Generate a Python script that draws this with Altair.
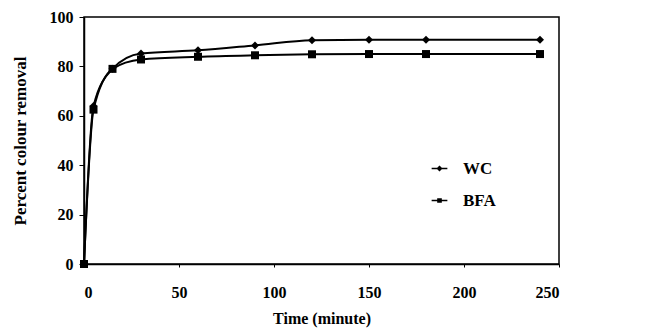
import altair as alt
import pandas as pd

time_min = [0, 5, 15, 30, 60, 90, 120, 150, 180, 240]
wc = [0, 64, 79, 85.2, 86.5, 88.5, 90.6, 90.8, 90.8, 90.8]
bfa = [0, 62.5, 79, 82.8, 83.9, 84.5, 84.9, 85, 85, 85]
series_names = ["WC", "BFA"]

rows = []
for t, a, b in zip(time_min, wc, bfa):
    rows.append({"time": t, "value": a, "series": "WC"})
    rows.append({"time": t, "value": b, "series": "BFA"})
df = pd.DataFrame(rows)

FONT = "Liberation Serif"

x = alt.X("time:Q", scale=alt.Scale(domain=[0, 250], nice=False),
          axis=alt.Axis(title="Time (minute)", values=[0, 50, 100, 150, 200, 250],
                        grid=False, tickSize=3, labelPadding=17, titlePadding=10))
y = alt.Y("value:Q", scale=alt.Scale(domain=[0, 100], nice=False),
          axis=alt.Axis(title="Percent colour removal", values=[0, 20, 40, 60, 80, 100],
                        grid=False, tickSize=5, labelPadding=6, titlePadding=20))

lines = alt.Chart(df).mark_line(interpolate="monotone", color="black", strokeWidth=2).encode(
    x=x, y=y, detail="series:N")

pts = alt.Chart(df).mark_point(filled=True, color="black", opacity=1).encode(
    x=x, y=y,
    shape=alt.Shape("series:N", scale=alt.Scale(domain=series_names, range=["diamond", "square"]),
                    legend=None),
    size=alt.Size("series:N", scale=alt.Scale(domain=series_names, range=[64, 64]), legend=None))

leg = alt.Legend(title=None, orient="none", legendX=347, legendY=143,
                 labelFont=FONT, labelFontSize=17, labelFontWeight="bold",
                 labelColor="black", rowPadding=14, symbolSize=110,
                 symbolStrokeWidth=1.5, symbolFillColor="black", labelOffset=15)

legend_layer = alt.Chart(df).transform_filter("false").mark_point(
    filled=True, opacity=1, strokeWidth=1.5, fill="black").encode(
    x=x, y=y,
    shape=alt.Shape("series:N",
                    scale=alt.Scale(domain=series_names,
                                    range=["M-1.5,0H1.5M0,-0.38L0.38,0L0,0.38L-0.38,0Z",
                                           "M-1.5,0H1.5M-0.3,-0.3H0.3V0.3H-0.3Z"]),
                    legend=leg),
    stroke=alt.Stroke("series:N", scale=alt.Scale(domain=series_names, range=["black", "black"]),
                      legend=leg))

chart = alt.layer(lines, pts, legend_layer).resolve_scale(
    shape="independent", size="independent", stroke="independent").properties(
    width=475, height=247,
    autosize=alt.AutoSizeParams(type="none"),
    padding={"left": 76, "top": 9, "right": 70, "bottom": 66},
).configure_view(stroke="black", strokeWidth=1.5).configure_axis(
    labelFont=FONT, labelFontSize=16, labelFontWeight="bold", labelColor="black",
    titleFont=FONT, titleFontSize=16, titleFontWeight="bold", titleColor="black",
    domainColor="black", domainWidth=1.5, tickColor="black",
).configure_axisY(titleFontSize=17)

chart.save("out.html", embed_options={"renderer": "svg", "actions": False})
